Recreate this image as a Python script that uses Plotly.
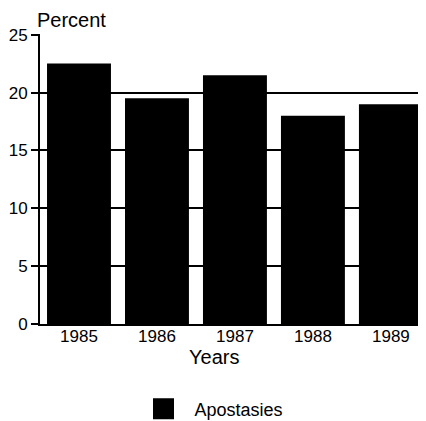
import plotly.graph_objects as go

years = ["1985", "1986", "1987", "1988", "1989"]
percent = [22.5, 19.5, 21.5, 18.0, 19.0]
y_ticks = [0, 5, 10, 15, 20, 25]
series_name = "Apostasies"

FONT = "Liberation Sans, Arial, Helvetica, sans-serif"

# page body has an 8px margin: work in figure coords = screen - 8
OFF = 8
W, H = 426 - OFF, 421 - OFF
L, R, T = 40 - OFF, 0, 34 - OFF
plot_bottom = 324 - OFF
B = H - plot_bottom
pw = W - L - R
ph = H - T - B


def px_x(sx):
    return (sx - OFF - L) / pw


def px_y(sy):
    return (plot_bottom - (sy - OFF)) / ph


fig = go.Figure()
fig.add_trace(go.Bar(
    x=years, y=percent, name=series_name,
    marker=dict(color="black", line=dict(width=0)),
    showlegend=False,
))
# legend entry with a larger square symbol
fig.add_trace(go.Scatter(
    x=[None], y=[None], name=series_name, mode="markers",
    marker=dict(symbol="square", size=16, color="black",
                line=dict(color="black", width=5)),
    showlegend=True,
))

fig.update_layout(
    width=W, height=H,
    margin=dict(l=L, r=R, t=T, b=B, pad=0, autoexpand=False),
    paper_bgcolor="white", plot_bgcolor="white",
    font=dict(family=FONT, color="black", size=17),
    bargap=0.18,
    showlegend=True,
    legend=dict(
        orientation="h", x=px_x(132.5), xanchor="left",
        y=px_y(409), yanchor="middle", itemwidth=52,
        font=dict(size=18, family=FONT), bgcolor="rgba(0,0,0,0)",
    ),
    xaxis=dict(
        type="category", range=[-0.5, 4.45], automargin=False,
        showline=True, linecolor="black", linewidth=2,
        ticks="", showgrid=False, tickfont=dict(size=17),
        ticklabelstandoff=-4,
    ),
    yaxis=dict(
        range=[0, 25.06], tickvals=y_ticks, automargin=False,
        showline=True, linecolor="black", linewidth=2,
        ticks="outside", ticklen=7, tickwidth=1.5, tickcolor="black",
        showgrid=True, gridcolor="black", gridwidth=2,
        zeroline=False, tickfont=dict(size=17),
    ),
    annotations=[
        dict(text="Percent", xref="paper", yref="paper",
             x=px_x(35), xanchor="left",
             y=px_y(20), yanchor="middle",
             showarrow=False, font=dict(size=20, family=FONT)),
        dict(text="Years", xref="paper", yref="paper",
             x=px_x(214), xanchor="center",
             y=px_y(357), yanchor="middle",
             showarrow=False, font=dict(size=20, family=FONT)),
    ],
)

fig.write_html("out.html")
